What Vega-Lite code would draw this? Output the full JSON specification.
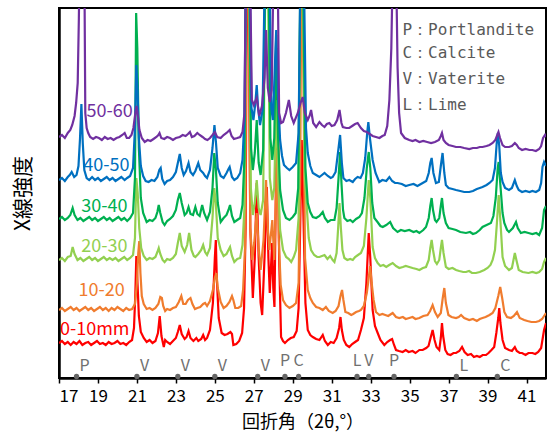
{
"$schema": "https://vega.github.io/schema/vega-lite/v6.json",
"width": 487, "height": 370,
"autosize": {"type": "none"},
"padding": {"left": 59, "top": 8, "right": 1, "bottom": 56},
"background": "white",
"config": {"view": {"stroke": "#000000", "strokeWidth": 2}},
"datasets": {
"xrd": [
{"s":"0-10mm","x":17.0,"y":35},{"s":"0-10mm","x":17.15,"y":37},{"s":"0-10mm","x":17.3,"y":34},{"s":"0-10mm","x":17.45,"y":36},{"s":"0-10mm","x":17.6,"y":33},{"s":"0-10mm","x":17.75,"y":36},{"s":"0-10mm","x":17.9,"y":34},{"s":"0-10mm","x":18.05,"y":37},{"s":"0-10mm","x":18.2,"y":33},{"s":"0-10mm","x":18.35,"y":35},{"s":"0-10mm","x":18.5,"y":36},{"s":"0-10mm","x":18.65,"y":33},{"s":"0-10mm","x":18.8,"y":35},{"s":"0-10mm","x":18.95,"y":37},{"s":"0-10mm","x":19.1,"y":34},{"s":"0-10mm","x":19.25,"y":35},{"s":"0-10mm","x":19.4,"y":33},{"s":"0-10mm","x":19.55,"y":36},{"s":"0-10mm","x":19.7,"y":34},{"s":"0-10mm","x":19.85,"y":35},{"s":"0-10mm","x":20.0,"y":37},{"s":"0-10mm","x":20.15,"y":34},{"s":"0-10mm","x":20.3,"y":35},{"s":"0-10mm","x":20.45,"y":33},{"s":"0-10mm","x":20.6,"y":36},{"s":"0-10mm","x":20.75,"y":38},{"s":"0-10mm","x":20.85,"y":50},{"s":"0-10mm","x":20.92,"y":85},{"s":"0-10mm","x":20.97,"y":122},{"s":"0-10mm","x":21.03,"y":95},{"s":"0-10mm","x":21.1,"y":62},{"s":"0-10mm","x":21.2,"y":46},{"s":"0-10mm","x":21.35,"y":40},{"s":"0-10mm","x":21.5,"y":36},{"s":"0-10mm","x":21.65,"y":38},{"s":"0-10mm","x":21.8,"y":35},{"s":"0-10mm","x":21.95,"y":37},{"s":"0-10mm","x":22.08,"y":45},{"s":"0-10mm","x":22.17,"y":62},{"s":"0-10mm","x":22.26,"y":42},{"s":"0-10mm","x":22.38,"y":31},{"s":"0-10mm","x":22.45,"y":38},{"s":"0-10mm","x":22.55,"y":36},{"s":"0-10mm","x":22.7,"y":34},{"s":"0-10mm","x":22.85,"y":37},{"s":"0-10mm","x":23.0,"y":40},{"s":"0-10mm","x":23.1,"y":46},{"s":"0-10mm","x":23.2,"y":53},{"s":"0-10mm","x":23.3,"y":44},{"s":"0-10mm","x":23.45,"y":39},{"s":"0-10mm","x":23.55,"y":41},{"s":"0-10mm","x":23.65,"y":47},{"s":"0-10mm","x":23.75,"y":40},{"s":"0-10mm","x":23.9,"y":37},{"s":"0-10mm","x":24.05,"y":40},{"s":"0-10mm","x":24.15,"y":37},{"s":"0-10mm","x":24.3,"y":39},{"s":"0-10mm","x":24.4,"y":43},{"s":"0-10mm","x":24.5,"y":38},{"s":"0-10mm","x":24.6,"y":40},{"s":"0-10mm","x":24.75,"y":48},{"s":"0-10mm","x":24.9,"y":75},{"s":"0-10mm","x":25.0,"y":120},{"s":"0-10mm","x":25.05,"y":138},{"s":"0-10mm","x":25.1,"y":100},{"s":"0-10mm","x":25.2,"y":60},{"s":"0-10mm","x":25.35,"y":45},{"s":"0-10mm","x":25.5,"y":43},{"s":"0-10mm","x":25.65,"y":44},{"s":"0-10mm","x":25.8,"y":46},{"s":"0-10mm","x":25.88,"y":44},{"s":"0-10mm","x":25.95,"y":33},{"s":"0-10mm","x":26.1,"y":34},{"s":"0-10mm","x":26.25,"y":37},{"s":"0-10mm","x":26.4,"y":45},{"s":"0-10mm","x":26.5,"y":70},{"s":"0-10mm","x":26.58,"y":150},{"s":"0-10mm","x":26.65,"y":420},{"s":"0-10mm","x":26.72,"y":420},{"s":"0-10mm","x":26.82,"y":150},{"s":"0-10mm","x":26.95,"y":80},{"s":"0-10mm","x":27.05,"y":120},{"s":"0-10mm","x":27.15,"y":195},{"s":"0-10mm","x":27.25,"y":120},{"s":"0-10mm","x":27.35,"y":75},{"s":"0-10mm","x":27.43,"y":63},{"s":"0-10mm","x":27.55,"y":120},{"s":"0-10mm","x":27.67,"y":191},{"s":"0-10mm","x":27.75,"y":120},{"s":"0-10mm","x":27.82,"y":85},{"s":"0-10mm","x":27.94,"y":135},{"s":"0-10mm","x":28.0,"y":90},{"s":"0-10mm","x":28.06,"y":71},{"s":"0-10mm","x":28.14,"y":200},{"s":"0-10mm","x":28.22,"y":330},{"s":"0-10mm","x":28.3,"y":120},{"s":"0-10mm","x":28.4,"y":41},{"s":"0-10mm","x":28.5,"y":37},{"s":"0-10mm","x":28.6,"y":35},{"s":"0-10mm","x":28.75,"y":38},{"s":"0-10mm","x":28.9,"y":40},{"s":"0-10mm","x":29.05,"y":41},{"s":"0-10mm","x":29.2,"y":47},{"s":"0-10mm","x":29.3,"y":70},{"s":"0-10mm","x":29.38,"y":150},{"s":"0-10mm","x":29.46,"y":238},{"s":"0-10mm","x":29.55,"y":160},{"s":"0-10mm","x":29.65,"y":75},{"s":"0-10mm","x":29.77,"y":48},{"s":"0-10mm","x":29.9,"y":43},{"s":"0-10mm","x":30.03,"y":41},{"s":"0-10mm","x":30.2,"y":39},{"s":"0-10mm","x":30.37,"y":38},{"s":"0-10mm","x":30.54,"y":43},{"s":"0-10mm","x":30.65,"y":37},{"s":"0-10mm","x":30.8,"y":33},{"s":"0-10mm","x":30.95,"y":36},{"s":"0-10mm","x":31.1,"y":35},{"s":"0-10mm","x":31.25,"y":40},{"s":"0-10mm","x":31.38,"y":50},{"s":"0-10mm","x":31.45,"y":61},{"s":"0-10mm","x":31.52,"y":48},{"s":"0-10mm","x":31.62,"y":38},{"s":"0-10mm","x":31.75,"y":33},{"s":"0-10mm","x":31.9,"y":31},{"s":"0-10mm","x":32.05,"y":34},{"s":"0-10mm","x":32.2,"y":36},{"s":"0-10mm","x":32.35,"y":38},{"s":"0-10mm","x":32.5,"y":48},{"s":"0-10mm","x":32.65,"y":60},{"s":"0-10mm","x":32.78,"y":95},{"s":"0-10mm","x":32.9,"y":145},{"s":"0-10mm","x":32.98,"y":120},{"s":"0-10mm","x":33.1,"y":68},{"s":"0-10mm","x":33.22,"y":52},{"s":"0-10mm","x":33.36,"y":45},{"s":"0-10mm","x":33.5,"y":38},{"s":"0-10mm","x":33.7,"y":33},{"s":"0-10mm","x":33.85,"y":36},{"s":"0-10mm","x":34.0,"y":38},{"s":"0-10mm","x":34.1,"y":39},{"s":"0-10mm","x":34.2,"y":33},{"s":"0-10mm","x":34.3,"y":28},{"s":"0-10mm","x":34.45,"y":27},{"s":"0-10mm","x":34.64,"y":26},{"s":"0-10mm","x":34.8,"y":28},{"s":"0-10mm","x":34.95,"y":26},{"s":"0-10mm","x":35.15,"y":27},{"s":"0-10mm","x":35.3,"y":25},{"s":"0-10mm","x":35.5,"y":28},{"s":"0-10mm","x":35.67,"y":28},{"s":"0-10mm","x":35.85,"y":30},{"s":"0-10mm","x":35.97,"y":32},{"s":"0-10mm","x":36.1,"y":42},{"s":"0-10mm","x":36.18,"y":48},{"s":"0-10mm","x":36.28,"y":38},{"s":"0-10mm","x":36.38,"y":31},{"s":"0-10mm","x":36.52,"y":28},{"s":"0-10mm","x":36.6,"y":40},{"s":"0-10mm","x":36.66,"y":55},{"s":"0-10mm","x":36.72,"y":42},{"s":"0-10mm","x":36.83,"y":28},{"s":"0-10mm","x":36.95,"y":24},{"s":"0-10mm","x":37.1,"y":23},{"s":"0-10mm","x":37.25,"y":25},{"s":"0-10mm","x":37.38,"y":25},{"s":"0-10mm","x":37.55,"y":27},{"s":"0-10mm","x":37.69,"y":31},{"s":"0-10mm","x":37.82,"y":26},{"s":"0-10mm","x":37.98,"y":23},{"s":"0-10mm","x":38.15,"y":24},{"s":"0-10mm","x":38.3,"y":21},{"s":"0-10mm","x":38.45,"y":22},{"s":"0-10mm","x":38.6,"y":21},{"s":"0-10mm","x":38.75,"y":23},{"s":"0-10mm","x":38.92,"y":23},{"s":"0-10mm","x":39.05,"y":25},{"s":"0-10mm","x":39.2,"y":28},{"s":"0-10mm","x":39.34,"y":31},{"s":"0-10mm","x":39.45,"y":45},{"s":"0-10mm","x":39.55,"y":60},{"s":"0-10mm","x":39.6,"y":70},{"s":"0-10mm","x":39.66,"y":55},{"s":"0-10mm","x":39.77,"y":38},{"s":"0-10mm","x":39.9,"y":30},{"s":"0-10mm","x":40.1,"y":28},{"s":"0-10mm","x":40.25,"y":27},{"s":"0-10mm","x":40.4,"y":31},{"s":"0-10mm","x":40.5,"y":27},{"s":"0-10mm","x":40.65,"y":25},{"s":"0-10mm","x":40.77,"y":25},{"s":"0-10mm","x":40.95,"y":23},{"s":"0-10mm","x":41.1,"y":25},{"s":"0-10mm","x":41.3,"y":25},{"s":"0-10mm","x":41.45,"y":24},{"s":"0-10mm","x":41.6,"y":26},{"s":"0-10mm","x":41.75,"y":30},{"s":"0-10mm","x":41.9,"y":48},{"s":"0-10mm","x":42.0,"y":55},

{"s":"10-20","x":17.0,"y":68},{"s":"10-20","x":17.15,"y":70},{"s":"10-20","x":17.3,"y":67},{"s":"10-20","x":17.45,"y":69},{"s":"10-20","x":17.6,"y":71},{"s":"10-20","x":17.75,"y":68},{"s":"10-20","x":17.9,"y":70},{"s":"10-20","x":18.05,"y":67},{"s":"10-20","x":18.2,"y":69},{"s":"10-20","x":18.35,"y":71},{"s":"10-20","x":18.5,"y":68},{"s":"10-20","x":18.65,"y":70},{"s":"10-20","x":18.8,"y":67},{"s":"10-20","x":18.95,"y":69},{"s":"10-20","x":19.1,"y":71},{"s":"10-20","x":19.25,"y":68},{"s":"10-20","x":19.4,"y":70},{"s":"10-20","x":19.55,"y":67},{"s":"10-20","x":19.7,"y":70},{"s":"10-20","x":19.85,"y":68},{"s":"10-20","x":20.0,"y":71},{"s":"10-20","x":20.15,"y":69},{"s":"10-20","x":20.3,"y":67},{"s":"10-20","x":20.45,"y":70},{"s":"10-20","x":20.6,"y":68},{"s":"10-20","x":20.75,"y":69},{"s":"10-20","x":20.9,"y":74},{"s":"10-20","x":21.0,"y":95},{"s":"10-20","x":21.07,"y":125},{"s":"10-20","x":21.12,"y":137},{"s":"10-20","x":21.18,"y":105},{"s":"10-20","x":21.25,"y":82},{"s":"10-20","x":21.35,"y":74},{"s":"10-20","x":21.5,"y":69},{"s":"10-20","x":21.65,"y":70},{"s":"10-20","x":21.8,"y":68},{"s":"10-20","x":21.95,"y":70},{"s":"10-20","x":22.1,"y":74},{"s":"10-20","x":22.2,"y":81},{"s":"10-20","x":22.28,"y":80},{"s":"10-20","x":22.35,"y":72},{"s":"10-20","x":22.45,"y":67},{"s":"10-20","x":22.55,"y":69},{"s":"10-20","x":22.7,"y":68},{"s":"10-20","x":22.85,"y":70},{"s":"10-20","x":23.0,"y":71},{"s":"10-20","x":23.15,"y":76},{"s":"10-20","x":23.28,"y":82},{"s":"10-20","x":23.38,"y":74},{"s":"10-20","x":23.5,"y":74},{"s":"10-20","x":23.62,"y":78},{"s":"10-20","x":23.75,"y":80},{"s":"10-20","x":23.85,"y":74},{"s":"10-20","x":23.98,"y":69},{"s":"10-20","x":24.1,"y":70},{"s":"10-20","x":24.25,"y":71},{"s":"10-20","x":24.4,"y":74},{"s":"10-20","x":24.5,"y":75},{"s":"10-20","x":24.6,"y":72},{"s":"10-20","x":24.75,"y":77},{"s":"10-20","x":24.9,"y":88},{"s":"10-20","x":25.0,"y":100},{"s":"10-20","x":25.08,"y":105},{"s":"10-20","x":25.15,"y":90},{"s":"10-20","x":25.3,"y":76},{"s":"10-20","x":25.45,"y":70},{"s":"10-20","x":25.6,"y":72},{"s":"10-20","x":25.75,"y":76},{"s":"10-20","x":25.88,"y":82},{"s":"10-20","x":25.95,"y":78},{"s":"10-20","x":26.05,"y":70},{"s":"10-20","x":26.2,"y":70},{"s":"10-20","x":26.35,"y":72},{"s":"10-20","x":26.45,"y":88},{"s":"10-20","x":26.55,"y":130},{"s":"10-20","x":26.63,"y":420},{"s":"10-20","x":26.73,"y":420},{"s":"10-20","x":26.82,"y":150},{"s":"10-20","x":26.92,"y":118},{"s":"10-20","x":27.02,"y":135},{"s":"10-20","x":27.15,"y":165},{"s":"10-20","x":27.25,"y":130},{"s":"10-20","x":27.35,"y":108},{"s":"10-20","x":27.5,"y":138},{"s":"10-20","x":27.63,"y":198},{"s":"10-20","x":27.72,"y":150},{"s":"10-20","x":27.8,"y":128},{"s":"10-20","x":27.95,"y":158},{"s":"10-20","x":28.05,"y":118},{"s":"10-20","x":28.14,"y":180},{"s":"10-20","x":28.2,"y":228},{"s":"10-20","x":28.28,"y":140},{"s":"10-20","x":28.38,"y":93},{"s":"10-20","x":28.5,"y":78},{"s":"10-20","x":28.65,"y":73},{"s":"10-20","x":28.83,"y":70},{"s":"10-20","x":29.0,"y":72},{"s":"10-20","x":29.17,"y":75},{"s":"10-20","x":29.3,"y":95},{"s":"10-20","x":29.38,"y":200},{"s":"10-20","x":29.45,"y":420},{"s":"10-20","x":29.55,"y":300},{"s":"10-20","x":29.63,"y":120},{"s":"10-20","x":29.77,"y":88},{"s":"10-20","x":29.9,"y":80},{"s":"10-20","x":30.03,"y":75},{"s":"10-20","x":30.2,"y":71},{"s":"10-20","x":30.37,"y":70},{"s":"10-20","x":30.54,"y":68},{"s":"10-20","x":30.7,"y":71},{"s":"10-20","x":30.85,"y":67},{"s":"10-20","x":31.05,"y":65},{"s":"10-20","x":31.2,"y":67},{"s":"10-20","x":31.35,"y":72},{"s":"10-20","x":31.45,"y":82},{"s":"10-20","x":31.53,"y":88},{"s":"10-20","x":31.6,"y":78},{"s":"10-20","x":31.7,"y":66},{"s":"10-20","x":31.85,"y":65},{"s":"10-20","x":32.0,"y":63},{"s":"10-20","x":32.1,"y":64},{"s":"10-20","x":32.25,"y":66},{"s":"10-20","x":32.4,"y":67},{"s":"10-20","x":32.5,"y":68},{"s":"10-20","x":32.65,"y":72},{"s":"10-20","x":32.8,"y":85},{"s":"10-20","x":32.9,"y":100},{"s":"10-20","x":32.97,"y":112},{"s":"10-20","x":33.05,"y":95},{"s":"10-20","x":33.15,"y":78},{"s":"10-20","x":33.27,"y":66},{"s":"10-20","x":33.45,"y":63},{"s":"10-20","x":33.6,"y":64},{"s":"10-20","x":33.75,"y":63},{"s":"10-20","x":33.9,"y":62},{"s":"10-20","x":34.05,"y":64},{"s":"10-20","x":34.13,"y":65},{"s":"10-20","x":34.3,"y":61},{"s":"10-20","x":34.47,"y":60},{"s":"10-20","x":34.65,"y":61},{"s":"10-20","x":34.8,"y":59},{"s":"10-20","x":34.98,"y":60},{"s":"10-20","x":35.15,"y":61},{"s":"10-20","x":35.3,"y":59},{"s":"10-20","x":35.5,"y":60},{"s":"10-20","x":35.7,"y":62},{"s":"10-20","x":35.92,"y":63},{"s":"10-20","x":36.05,"y":67},{"s":"10-20","x":36.18,"y":73},{"s":"10-20","x":36.3,"y":66},{"s":"10-20","x":36.44,"y":61},{"s":"10-20","x":36.6,"y":65},{"s":"10-20","x":36.7,"y":80},{"s":"10-20","x":36.78,"y":90},{"s":"10-20","x":36.86,"y":75},{"s":"10-20","x":36.99,"y":63},{"s":"10-20","x":37.15,"y":61},{"s":"10-20","x":37.38,"y":60},{"s":"10-20","x":37.52,"y":61},{"s":"10-20","x":37.64,"y":63},{"s":"10-20","x":37.8,"y":60},{"s":"10-20","x":38.06,"y":58},{"s":"10-20","x":38.25,"y":59},{"s":"10-20","x":38.45,"y":57},{"s":"10-20","x":38.6,"y":59},{"s":"10-20","x":38.74,"y":60},{"s":"10-20","x":38.9,"y":61},{"s":"10-20","x":39.1,"y":63},{"s":"10-20","x":39.26,"y":65},{"s":"10-20","x":39.4,"y":70},{"s":"10-20","x":39.55,"y":82},{"s":"10-20","x":39.65,"y":91},{"s":"10-20","x":39.75,"y":80},{"s":"10-20","x":39.86,"y":66},{"s":"10-20","x":40.0,"y":61},{"s":"10-20","x":40.2,"y":60},{"s":"10-20","x":40.35,"y":62},{"s":"10-20","x":40.51,"y":66},{"s":"10-20","x":40.65,"y":60},{"s":"10-20","x":40.88,"y":58},{"s":"10-20","x":41.05,"y":57},{"s":"10-20","x":41.25,"y":56},{"s":"10-20","x":41.48,"y":56},{"s":"10-20","x":41.65,"y":57},{"s":"10-20","x":41.8,"y":59},{"s":"10-20","x":41.9,"y":62},{"s":"10-20","x":42.0,"y":65},

{"s":"20-30","x":17.0,"y":118},{"s":"20-30","x":17.15,"y":120},{"s":"20-30","x":17.3,"y":117},{"s":"20-30","x":17.45,"y":121},{"s":"20-30","x":17.6,"y":122},{"s":"20-30","x":17.7,"y":131},{"s":"20-30","x":17.8,"y":124},{"s":"20-30","x":17.95,"y":118},{"s":"20-30","x":18.1,"y":120},{"s":"20-30","x":18.25,"y":117},{"s":"20-30","x":18.4,"y":119},{"s":"20-30","x":18.55,"y":121},{"s":"20-30","x":18.7,"y":118},{"s":"20-30","x":18.85,"y":120},{"s":"20-30","x":19.0,"y":117},{"s":"20-30","x":19.15,"y":119},{"s":"20-30","x":19.3,"y":121},{"s":"20-30","x":19.45,"y":118},{"s":"20-30","x":19.6,"y":120},{"s":"20-30","x":19.75,"y":118},{"s":"20-30","x":19.9,"y":120},{"s":"20-30","x":20.05,"y":117},{"s":"20-30","x":20.2,"y":119},{"s":"20-30","x":20.35,"y":121},{"s":"20-30","x":20.5,"y":118},{"s":"20-30","x":20.65,"y":120},{"s":"20-30","x":20.8,"y":123},{"s":"20-30","x":20.9,"y":140},{"s":"20-30","x":20.97,"y":200},{"s":"20-30","x":21.04,"y":185},{"s":"20-30","x":21.12,"y":150},{"s":"20-30","x":21.22,"y":130},{"s":"20-30","x":21.35,"y":122},{"s":"20-30","x":21.5,"y":118},{"s":"20-30","x":21.65,"y":120},{"s":"20-30","x":21.8,"y":119},{"s":"20-30","x":21.95,"y":121},{"s":"20-30","x":22.05,"y":126},{"s":"20-30","x":22.12,"y":130},{"s":"20-30","x":22.2,"y":124},{"s":"20-30","x":22.32,"y":118},{"s":"20-30","x":22.42,"y":116},{"s":"20-30","x":22.55,"y":119},{"s":"20-30","x":22.7,"y":118},{"s":"20-30","x":22.85,"y":120},{"s":"20-30","x":23.0,"y":124},{"s":"20-30","x":23.1,"y":135},{"s":"20-30","x":23.2,"y":145},{"s":"20-30","x":23.3,"y":132},{"s":"20-30","x":23.45,"y":126},{"s":"20-30","x":23.58,"y":133},{"s":"20-30","x":23.68,"y":145},{"s":"20-30","x":23.8,"y":128},{"s":"20-30","x":23.92,"y":122},{"s":"20-30","x":24.0,"y":121},{"s":"20-30","x":24.15,"y":124},{"s":"20-30","x":24.3,"y":128},{"s":"20-30","x":24.4,"y":133},{"s":"20-30","x":24.5,"y":126},{"s":"20-30","x":24.6,"y":123},{"s":"20-30","x":24.75,"y":130},{"s":"20-30","x":24.88,"y":160},{"s":"20-30","x":24.97,"y":190},{"s":"20-30","x":25.05,"y":175},{"s":"20-30","x":25.15,"y":140},{"s":"20-30","x":25.3,"y":128},{"s":"20-30","x":25.45,"y":122},{"s":"20-30","x":25.6,"y":124},{"s":"20-30","x":25.7,"y":128},{"s":"20-30","x":25.78,"y":131},{"s":"20-30","x":25.88,"y":122},{"s":"20-30","x":26.0,"y":116},{"s":"20-30","x":26.15,"y":119},{"s":"20-30","x":26.3,"y":120},{"s":"20-30","x":26.42,"y":133},{"s":"20-30","x":26.52,"y":170},{"s":"20-30","x":26.6,"y":420},{"s":"20-30","x":26.75,"y":420},{"s":"20-30","x":26.85,"y":190},{"s":"20-30","x":26.95,"y":163},{"s":"20-30","x":27.05,"y":175},{"s":"20-30","x":27.15,"y":198},{"s":"20-30","x":27.25,"y":170},{"s":"20-30","x":27.35,"y":163},{"s":"20-30","x":27.48,"y":178},{"s":"20-30","x":27.6,"y":420},{"s":"20-30","x":27.72,"y":420},{"s":"20-30","x":27.82,"y":200},{"s":"20-30","x":27.95,"y":178},{"s":"20-30","x":28.05,"y":190},{"s":"20-30","x":28.15,"y":278},{"s":"20-30","x":28.25,"y":200},{"s":"20-30","x":28.35,"y":148},{"s":"20-30","x":28.5,"y":128},{"s":"20-30","x":28.66,"y":121},{"s":"20-30","x":28.8,"y":119},{"s":"20-30","x":28.92,"y":116},{"s":"20-30","x":29.05,"y":121},{"s":"20-30","x":29.17,"y":128},{"s":"20-30","x":29.3,"y":160},{"s":"20-30","x":29.4,"y":420},{"s":"20-30","x":29.5,"y":420},{"s":"20-30","x":29.62,"y":200},{"s":"20-30","x":29.72,"y":171},{"s":"20-30","x":29.82,"y":140},{"s":"20-30","x":29.94,"y":128},{"s":"20-30","x":30.1,"y":123},{"s":"20-30","x":30.25,"y":121},{"s":"20-30","x":30.37,"y":121},{"s":"20-30","x":30.5,"y":122},{"s":"20-30","x":30.63,"y":123},{"s":"20-30","x":30.78,"y":119},{"s":"20-30","x":30.92,"y":122},{"s":"20-30","x":31.05,"y":118},{"s":"20-30","x":31.14,"y":116},{"s":"20-30","x":31.25,"y":125},{"s":"20-30","x":31.33,"y":150},{"s":"20-30","x":31.4,"y":175},{"s":"20-30","x":31.47,"y":150},{"s":"20-30","x":31.55,"y":128},{"s":"20-30","x":31.65,"y":120},{"s":"20-30","x":31.8,"y":118},{"s":"20-30","x":31.95,"y":119},{"s":"20-30","x":32.08,"y":118},{"s":"20-30","x":32.2,"y":121},{"s":"20-30","x":32.35,"y":123},{"s":"20-30","x":32.5,"y":125},{"s":"20-30","x":32.65,"y":132},{"s":"20-30","x":32.78,"y":160},{"s":"20-30","x":32.9,"y":198},{"s":"20-30","x":32.98,"y":180},{"s":"20-30","x":33.1,"y":131},{"s":"20-30","x":33.22,"y":120},{"s":"20-30","x":33.36,"y":115},{"s":"20-30","x":33.5,"y":112},{"s":"20-30","x":33.65,"y":113},{"s":"20-30","x":33.8,"y":111},{"s":"20-30","x":33.95,"y":113},{"s":"20-30","x":34.13,"y":115},{"s":"20-30","x":34.3,"y":112},{"s":"20-30","x":34.47,"y":110},{"s":"20-30","x":34.65,"y":111},{"s":"20-30","x":34.8,"y":112},{"s":"20-30","x":34.98,"y":111},{"s":"20-30","x":35.15,"y":110},{"s":"20-30","x":35.35,"y":109},{"s":"20-30","x":35.5,"y":108},{"s":"20-30","x":35.68,"y":110},{"s":"20-30","x":35.84,"y":111},{"s":"20-30","x":35.98,"y":118},{"s":"20-30","x":36.06,"y":130},{"s":"20-30","x":36.13,"y":138},{"s":"20-30","x":36.2,"y":128},{"s":"20-30","x":36.3,"y":117},{"s":"20-30","x":36.4,"y":114},{"s":"20-30","x":36.52,"y":118},{"s":"20-30","x":36.6,"y":130},{"s":"20-30","x":36.66,"y":138},{"s":"20-30","x":36.74,"y":125},{"s":"20-30","x":36.86,"y":111},{"s":"20-30","x":37.0,"y":109},{"s":"20-30","x":37.2,"y":110},{"s":"20-30","x":37.38,"y":108},{"s":"20-30","x":37.55,"y":107},{"s":"20-30","x":37.75,"y":106},{"s":"20-30","x":37.89,"y":106},{"s":"20-30","x":38.05,"y":107},{"s":"20-30","x":38.2,"y":105},{"s":"20-30","x":38.4,"y":105},{"s":"20-30","x":38.6,"y":106},{"s":"20-30","x":38.83,"y":108},{"s":"20-30","x":39.0,"y":110},{"s":"20-30","x":39.15,"y":113},{"s":"20-30","x":39.26,"y":118},{"s":"20-30","x":39.38,"y":128},{"s":"20-30","x":39.48,"y":155},{"s":"20-30","x":39.57,"y":183},{"s":"20-30","x":39.65,"y":160},{"s":"20-30","x":39.77,"y":121},{"s":"20-30","x":39.9,"y":112},{"s":"20-30","x":40.1,"y":108},{"s":"20-30","x":40.25,"y":110},{"s":"20-30","x":40.4,"y":125},{"s":"20-30","x":40.48,"y":118},{"s":"20-30","x":40.6,"y":108},{"s":"20-30","x":40.8,"y":106},{"s":"20-30","x":41.1,"y":105},{"s":"20-30","x":41.3,"y":106},{"s":"20-30","x":41.5,"y":105},{"s":"20-30","x":41.65,"y":106},{"s":"20-30","x":41.8,"y":109},{"s":"20-30","x":41.9,"y":116},{"s":"20-30","x":42.0,"y":120},

{"s":"30-40","x":17.0,"y":159},{"s":"30-40","x":17.15,"y":161},{"s":"30-40","x":17.3,"y":158},{"s":"30-40","x":17.45,"y":160},{"s":"30-40","x":17.58,"y":163},{"s":"30-40","x":17.7,"y":170},{"s":"30-40","x":17.8,"y":163},{"s":"30-40","x":17.95,"y":158},{"s":"30-40","x":18.1,"y":160},{"s":"30-40","x":18.25,"y":157},{"s":"30-40","x":18.4,"y":159},{"s":"30-40","x":18.55,"y":161},{"s":"30-40","x":18.7,"y":158},{"s":"30-40","x":18.85,"y":160},{"s":"30-40","x":19.0,"y":157},{"s":"30-40","x":19.15,"y":159},{"s":"30-40","x":19.3,"y":161},{"s":"30-40","x":19.45,"y":158},{"s":"30-40","x":19.6,"y":160},{"s":"30-40","x":19.75,"y":157},{"s":"30-40","x":19.9,"y":159},{"s":"30-40","x":20.05,"y":161},{"s":"30-40","x":20.2,"y":158},{"s":"30-40","x":20.35,"y":160},{"s":"30-40","x":20.5,"y":157},{"s":"30-40","x":20.65,"y":160},{"s":"30-40","x":20.8,"y":165},{"s":"30-40","x":20.9,"y":200},{"s":"30-40","x":20.96,"y":365},{"s":"30-40","x":21.02,"y":330},{"s":"30-40","x":21.1,"y":230},{"s":"30-40","x":21.2,"y":180},{"s":"30-40","x":21.32,"y":165},{"s":"30-40","x":21.5,"y":156},{"s":"30-40","x":21.65,"y":158},{"s":"30-40","x":21.8,"y":157},{"s":"30-40","x":21.95,"y":160},{"s":"30-40","x":22.05,"y":166},{"s":"30-40","x":22.12,"y":173},{"s":"30-40","x":22.2,"y":165},{"s":"30-40","x":22.32,"y":156},{"s":"30-40","x":22.42,"y":153},{"s":"30-40","x":22.55,"y":157},{"s":"30-40","x":22.7,"y":159},{"s":"30-40","x":22.85,"y":162},{"s":"30-40","x":23.0,"y":168},{"s":"30-40","x":23.1,"y":178},{"s":"30-40","x":23.2,"y":185},{"s":"30-40","x":23.3,"y":175},{"s":"30-40","x":23.45,"y":163},{"s":"30-40","x":23.55,"y":165},{"s":"30-40","x":23.65,"y":171},{"s":"30-40","x":23.75,"y":164},{"s":"30-40","x":23.88,"y":163},{"s":"30-40","x":24.0,"y":171},{"s":"30-40","x":24.1,"y":164},{"s":"30-40","x":24.22,"y":162},{"s":"30-40","x":24.35,"y":173},{"s":"30-40","x":24.45,"y":165},{"s":"30-40","x":24.6,"y":158},{"s":"30-40","x":24.75,"y":166},{"s":"30-40","x":24.88,"y":190},{"s":"30-40","x":24.97,"y":225},{"s":"30-40","x":25.05,"y":210},{"s":"30-40","x":25.15,"y":175},{"s":"30-40","x":25.3,"y":156},{"s":"30-40","x":25.45,"y":160},{"s":"30-40","x":25.6,"y":163},{"s":"30-40","x":25.7,"y":168},{"s":"30-40","x":25.78,"y":173},{"s":"30-40","x":25.88,"y":162},{"s":"30-40","x":26.0,"y":156},{"s":"30-40","x":26.15,"y":158},{"s":"30-40","x":26.3,"y":160},{"s":"30-40","x":26.42,"y":173},{"s":"30-40","x":26.52,"y":220},{"s":"30-40","x":26.6,"y":420},{"s":"30-40","x":26.76,"y":420},{"s":"30-40","x":26.86,"y":230},{"s":"30-40","x":26.95,"y":208},{"s":"30-40","x":27.05,"y":225},{"s":"30-40","x":27.15,"y":258},{"s":"30-40","x":27.25,"y":215},{"s":"30-40","x":27.35,"y":203},{"s":"30-40","x":27.48,"y":228},{"s":"30-40","x":27.6,"y":420},{"s":"30-40","x":27.75,"y":420},{"s":"30-40","x":27.85,"y":240},{"s":"30-40","x":27.95,"y":218},{"s":"30-40","x":28.05,"y":240},{"s":"30-40","x":28.15,"y":343},{"s":"30-40","x":28.25,"y":240},{"s":"30-40","x":28.35,"y":188},{"s":"30-40","x":28.5,"y":168},{"s":"30-40","x":28.65,"y":160},{"s":"30-40","x":28.83,"y":158},{"s":"30-40","x":29.0,"y":161},{"s":"30-40","x":29.15,"y":165},{"s":"30-40","x":29.28,"y":190},{"s":"30-40","x":29.4,"y":420},{"s":"30-40","x":29.52,"y":420},{"s":"30-40","x":29.65,"y":210},{"s":"30-40","x":29.77,"y":175},{"s":"30-40","x":29.9,"y":166},{"s":"30-40","x":30.03,"y":161},{"s":"30-40","x":30.2,"y":160},{"s":"30-40","x":30.37,"y":162},{"s":"30-40","x":30.54,"y":166},{"s":"30-40","x":30.65,"y":160},{"s":"30-40","x":30.8,"y":156},{"s":"30-40","x":30.95,"y":158},{"s":"30-40","x":31.14,"y":158},{"s":"30-40","x":31.25,"y":170},{"s":"30-40","x":31.35,"y":200},{"s":"30-40","x":31.43,"y":226},{"s":"30-40","x":31.5,"y":195},{"s":"30-40","x":31.58,"y":168},{"s":"30-40","x":31.65,"y":160},{"s":"30-40","x":31.8,"y":157},{"s":"30-40","x":31.95,"y":158},{"s":"30-40","x":32.08,"y":156},{"s":"30-40","x":32.25,"y":159},{"s":"30-40","x":32.42,"y":161},{"s":"30-40","x":32.55,"y":165},{"s":"30-40","x":32.68,"y":180},{"s":"30-40","x":32.8,"y":210},{"s":"30-40","x":32.9,"y":226},{"s":"30-40","x":32.98,"y":210},{"s":"30-40","x":33.08,"y":175},{"s":"30-40","x":33.19,"y":160},{"s":"30-40","x":33.35,"y":156},{"s":"30-40","x":33.5,"y":152},{"s":"30-40","x":33.62,"y":151},{"s":"30-40","x":33.8,"y":153},{"s":"30-40","x":34.0,"y":156},{"s":"30-40","x":34.15,"y":150},{"s":"30-40","x":34.38,"y":146},{"s":"30-40","x":34.55,"y":148},{"s":"30-40","x":34.75,"y":147},{"s":"30-40","x":34.98,"y":148},{"s":"30-40","x":35.2,"y":146},{"s":"30-40","x":35.35,"y":147},{"s":"30-40","x":35.5,"y":145},{"s":"30-40","x":35.7,"y":148},{"s":"30-40","x":35.84,"y":151},{"s":"30-40","x":35.98,"y":160},{"s":"30-40","x":36.06,"y":172},{"s":"30-40","x":36.13,"y":180},{"s":"30-40","x":36.2,"y":168},{"s":"30-40","x":36.3,"y":158},{"s":"30-40","x":36.38,"y":156},{"s":"30-40","x":36.52,"y":160},{"s":"30-40","x":36.6,"y":172},{"s":"30-40","x":36.66,"y":180},{"s":"30-40","x":36.74,"y":165},{"s":"30-40","x":36.86,"y":155},{"s":"30-40","x":37.0,"y":150},{"s":"30-40","x":37.2,"y":149},{"s":"30-40","x":37.38,"y":148},{"s":"30-40","x":37.6,"y":146},{"s":"30-40","x":37.89,"y":145},{"s":"30-40","x":38.1,"y":146},{"s":"30-40","x":38.25,"y":144},{"s":"30-40","x":38.4,"y":145},{"s":"30-40","x":38.6,"y":148},{"s":"30-40","x":38.74,"y":151},{"s":"30-40","x":38.95,"y":153},{"s":"30-40","x":39.17,"y":155},{"s":"30-40","x":39.3,"y":162},{"s":"30-40","x":39.42,"y":180},{"s":"30-40","x":39.52,"y":210},{"s":"30-40","x":39.57,"y":216},{"s":"30-40","x":39.65,"y":195},{"s":"30-40","x":39.77,"y":165},{"s":"30-40","x":39.86,"y":155},{"s":"30-40","x":40.0,"y":148},{"s":"30-40","x":40.1,"y":146},{"s":"30-40","x":40.3,"y":150},{"s":"30-40","x":40.46,"y":156},{"s":"30-40","x":40.55,"y":150},{"s":"30-40","x":40.71,"y":145},{"s":"30-40","x":40.9,"y":146},{"s":"30-40","x":41.1,"y":145},{"s":"30-40","x":41.3,"y":144},{"s":"30-40","x":41.5,"y":145},{"s":"30-40","x":41.65,"y":143},{"s":"30-40","x":41.8,"y":150},{"s":"30-40","x":41.9,"y":168},{"s":"30-40","x":42.0,"y":172},

{"s":"40-50","x":17.0,"y":198},{"s":"40-50","x":17.15,"y":200},{"s":"40-50","x":17.3,"y":197},{"s":"40-50","x":17.45,"y":201},{"s":"40-50","x":17.55,"y":203},{"s":"40-50","x":17.65,"y":206},{"s":"40-50","x":17.78,"y":201},{"s":"40-50","x":17.9,"y":203},{"s":"40-50","x":18.0,"y":212},{"s":"40-50","x":18.08,"y":240},{"s":"40-50","x":18.15,"y":274},{"s":"40-50","x":18.22,"y":235},{"s":"40-50","x":18.3,"y":208},{"s":"40-50","x":18.42,"y":200},{"s":"40-50","x":18.55,"y":198},{"s":"40-50","x":18.7,"y":201},{"s":"40-50","x":18.85,"y":198},{"s":"40-50","x":19.0,"y":200},{"s":"40-50","x":19.15,"y":197},{"s":"40-50","x":19.3,"y":199},{"s":"40-50","x":19.45,"y":201},{"s":"40-50","x":19.6,"y":198},{"s":"40-50","x":19.75,"y":200},{"s":"40-50","x":19.9,"y":197},{"s":"40-50","x":20.05,"y":199},{"s":"40-50","x":20.2,"y":201},{"s":"40-50","x":20.37,"y":198},{"s":"40-50","x":20.5,"y":200},{"s":"40-50","x":20.65,"y":202},{"s":"40-50","x":20.8,"y":210},{"s":"40-50","x":20.9,"y":250},{"s":"40-50","x":20.97,"y":313},{"s":"40-50","x":21.03,"y":290},{"s":"40-50","x":21.1,"y":240},{"s":"40-50","x":21.2,"y":212},{"s":"40-50","x":21.32,"y":202},{"s":"40-50","x":21.45,"y":197},{"s":"40-50","x":21.6,"y":196},{"s":"40-50","x":21.75,"y":198},{"s":"40-50","x":21.9,"y":197},{"s":"40-50","x":22.05,"y":201},{"s":"40-50","x":22.15,"y":208},{"s":"40-50","x":22.22,"y":210},{"s":"40-50","x":22.3,"y":199},{"s":"40-50","x":22.42,"y":194},{"s":"40-50","x":22.55,"y":197},{"s":"40-50","x":22.7,"y":198},{"s":"40-50","x":22.85,"y":201},{"s":"40-50","x":23.0,"y":206},{"s":"40-50","x":23.1,"y":215},{"s":"40-50","x":23.2,"y":224},{"s":"40-50","x":23.3,"y":210},{"s":"40-50","x":23.4,"y":203},{"s":"40-50","x":23.52,"y":207},{"s":"40-50","x":23.65,"y":215},{"s":"40-50","x":23.75,"y":206},{"s":"40-50","x":23.88,"y":203},{"s":"40-50","x":24.0,"y":207},{"s":"40-50","x":24.15,"y":215},{"s":"40-50","x":24.25,"y":208},{"s":"40-50","x":24.4,"y":205},{"s":"40-50","x":24.5,"y":202},{"s":"40-50","x":24.6,"y":200},{"s":"40-50","x":24.75,"y":208},{"s":"40-50","x":24.88,"y":230},{"s":"40-50","x":24.98,"y":253},{"s":"40-50","x":25.06,"y":235},{"s":"40-50","x":25.15,"y":210},{"s":"40-50","x":25.3,"y":202},{"s":"40-50","x":25.45,"y":200},{"s":"40-50","x":25.6,"y":205},{"s":"40-50","x":25.7,"y":209},{"s":"40-50","x":25.76,"y":211},{"s":"40-50","x":25.88,"y":201},{"s":"40-50","x":26.0,"y":198},{"s":"40-50","x":26.15,"y":200},{"s":"40-50","x":26.3,"y":205},{"s":"40-50","x":26.42,"y":218},{"s":"40-50","x":26.52,"y":260},{"s":"40-50","x":26.6,"y":420},{"s":"40-50","x":26.78,"y":420},{"s":"40-50","x":26.88,"y":270},{"s":"40-50","x":26.98,"y":258},{"s":"40-50","x":27.08,"y":275},{"s":"40-50","x":27.15,"y":293},{"s":"40-50","x":27.22,"y":270},{"s":"40-50","x":27.32,"y":253},{"s":"40-50","x":27.45,"y":268},{"s":"40-50","x":27.58,"y":420},{"s":"40-50","x":27.8,"y":420},{"s":"40-50","x":27.9,"y":270},{"s":"40-50","x":27.98,"y":258},{"s":"40-50","x":28.06,"y":300},{"s":"40-50","x":28.15,"y":348},{"s":"40-50","x":28.25,"y":280},{"s":"40-50","x":28.35,"y":238},{"s":"40-50","x":28.45,"y":222},{"s":"40-50","x":28.55,"y":213},{"s":"40-50","x":28.7,"y":210},{"s":"40-50","x":28.83,"y":208},{"s":"40-50","x":29.0,"y":211},{"s":"40-50","x":29.17,"y":215},{"s":"40-50","x":29.3,"y":245},{"s":"40-50","x":29.4,"y":420},{"s":"40-50","x":29.56,"y":420},{"s":"40-50","x":29.68,"y":250},{"s":"40-50","x":29.77,"y":225},{"s":"40-50","x":29.9,"y":212},{"s":"40-50","x":30.03,"y":205},{"s":"40-50","x":30.2,"y":203},{"s":"40-50","x":30.37,"y":201},{"s":"40-50","x":30.5,"y":203},{"s":"40-50","x":30.63,"y":205},{"s":"40-50","x":30.8,"y":202},{"s":"40-50","x":30.95,"y":200},{"s":"40-50","x":31.05,"y":201},{"s":"40-50","x":31.2,"y":206},{"s":"40-50","x":31.32,"y":225},{"s":"40-50","x":31.43,"y":243},{"s":"40-50","x":31.52,"y":215},{"s":"40-50","x":31.6,"y":200},{"s":"40-50","x":31.75,"y":197},{"s":"40-50","x":31.9,"y":198},{"s":"40-50","x":32.08,"y":196},{"s":"40-50","x":32.2,"y":199},{"s":"40-50","x":32.33,"y":201},{"s":"40-50","x":32.48,"y":200},{"s":"40-50","x":32.6,"y":205},{"s":"40-50","x":32.72,"y":220},{"s":"40-50","x":32.82,"y":245},{"s":"40-50","x":32.88,"y":256},{"s":"40-50","x":32.96,"y":240},{"s":"40-50","x":33.1,"y":218},{"s":"40-50","x":33.25,"y":205},{"s":"40-50","x":33.44,"y":196},{"s":"40-50","x":33.6,"y":198},{"s":"40-50","x":33.8,"y":197},{"s":"40-50","x":33.96,"y":201},{"s":"40-50","x":34.1,"y":197},{"s":"40-50","x":34.25,"y":195},{"s":"40-50","x":34.38,"y":195},{"s":"40-50","x":34.6,"y":194},{"s":"40-50","x":34.8,"y":192},{"s":"40-50","x":34.98,"y":193},{"s":"40-50","x":35.2,"y":194},{"s":"40-50","x":35.4,"y":192},{"s":"40-50","x":35.67,"y":195},{"s":"40-50","x":35.85,"y":197},{"s":"40-50","x":35.98,"y":205},{"s":"40-50","x":36.06,"y":215},{"s":"40-50","x":36.13,"y":220},{"s":"40-50","x":36.22,"y":205},{"s":"40-50","x":36.35,"y":195},{"s":"40-50","x":36.5,"y":196},{"s":"40-50","x":36.6,"y":212},{"s":"40-50","x":36.69,"y":225},{"s":"40-50","x":36.78,"y":205},{"s":"40-50","x":36.86,"y":193},{"s":"40-50","x":37.0,"y":190},{"s":"40-50","x":37.2,"y":189},{"s":"40-50","x":37.38,"y":188},{"s":"40-50","x":37.6,"y":187},{"s":"40-50","x":37.8,"y":186},{"s":"40-50","x":38.06,"y":186},{"s":"40-50","x":38.25,"y":187},{"s":"40-50","x":38.45,"y":189},{"s":"40-50","x":38.6,"y":190},{"s":"40-50","x":38.74,"y":191},{"s":"40-50","x":38.95,"y":193},{"s":"40-50","x":39.1,"y":195},{"s":"40-50","x":39.26,"y":198},{"s":"40-50","x":39.38,"y":210},{"s":"40-50","x":39.47,"y":235},{"s":"40-50","x":39.53,"y":245},{"s":"40-50","x":39.6,"y":232},{"s":"40-50","x":39.68,"y":205},{"s":"40-50","x":39.77,"y":196},{"s":"40-50","x":39.9,"y":190},{"s":"40-50","x":40.1,"y":188},{"s":"40-50","x":40.25,"y":190},{"s":"40-50","x":40.4,"y":198},{"s":"40-50","x":40.5,"y":192},{"s":"40-50","x":40.6,"y":188},{"s":"40-50","x":40.77,"y":186},{"s":"40-50","x":40.95,"y":187},{"s":"40-50","x":41.15,"y":186},{"s":"40-50","x":41.3,"y":187},{"s":"40-50","x":41.48,"y":186},{"s":"40-50","x":41.65,"y":188},{"s":"40-50","x":41.75,"y":195},{"s":"40-50","x":41.82,"y":211},{"s":"40-50","x":41.9,"y":216},{"s":"40-50","x":42.0,"y":212},

{"s":"50-60","x":17.0,"y":241},{"s":"50-60","x":17.15,"y":243},{"s":"50-60","x":17.3,"y":240},{"s":"50-60","x":17.45,"y":245},{"s":"50-60","x":17.58,"y":248},{"s":"50-60","x":17.68,"y":253},{"s":"50-60","x":17.8,"y":262},{"s":"50-60","x":17.88,"y":275},{"s":"50-60","x":17.96,"y":295},{"s":"50-60","x":18.02,"y":360},{"s":"50-60","x":18.06,"y":420},{"s":"50-60","x":18.3,"y":420},{"s":"50-60","x":18.35,"y":265},{"s":"50-60","x":18.42,"y":250},{"s":"50-60","x":18.5,"y":245},{"s":"50-60","x":18.6,"y":241},{"s":"50-60","x":18.75,"y":239},{"s":"50-60","x":18.9,"y":241},{"s":"50-60","x":19.05,"y":240},{"s":"50-60","x":19.2,"y":238},{"s":"50-60","x":19.35,"y":241},{"s":"50-60","x":19.5,"y":239},{"s":"50-60","x":19.65,"y":240},{"s":"50-60","x":19.8,"y":238},{"s":"50-60","x":19.95,"y":240},{"s":"50-60","x":20.1,"y":241},{"s":"50-60","x":20.25,"y":243},{"s":"50-60","x":20.37,"y":245},{"s":"50-60","x":20.48,"y":240},{"s":"50-60","x":20.6,"y":240},{"s":"50-60","x":20.72,"y":243},{"s":"50-60","x":20.82,"y":250},{"s":"50-60","x":20.92,"y":265},{"s":"50-60","x":20.98,"y":272},{"s":"50-60","x":21.05,"y":262},{"s":"50-60","x":21.13,"y":248},{"s":"50-60","x":21.25,"y":240},{"s":"50-60","x":21.4,"y":236},{"s":"50-60","x":21.55,"y":238},{"s":"50-60","x":21.7,"y":237},{"s":"50-60","x":21.85,"y":239},{"s":"50-60","x":22.0,"y":241},{"s":"50-60","x":22.1,"y":243},{"s":"50-60","x":22.16,"y":245},{"s":"50-60","x":22.25,"y":240},{"s":"50-60","x":22.4,"y":239},{"s":"50-60","x":22.55,"y":241},{"s":"50-60","x":22.7,"y":240},{"s":"50-60","x":22.85,"y":238},{"s":"50-60","x":23.0,"y":240},{"s":"50-60","x":23.2,"y":241},{"s":"50-60","x":23.35,"y":243},{"s":"50-60","x":23.5,"y":242},{"s":"50-60","x":23.62,"y":244},{"s":"50-60","x":23.72,"y":246},{"s":"50-60","x":23.82,"y":241},{"s":"50-60","x":23.95,"y":242},{"s":"50-60","x":24.1,"y":245},{"s":"50-60","x":24.22,"y":243},{"s":"50-60","x":24.37,"y":241},{"s":"50-60","x":24.5,"y":239},{"s":"50-60","x":24.62,"y":238},{"s":"50-60","x":24.75,"y":240},{"s":"50-60","x":24.88,"y":243},{"s":"50-60","x":25.0,"y":246},{"s":"50-60","x":25.12,"y":241},{"s":"50-60","x":25.3,"y":240},{"s":"50-60","x":25.45,"y":243},{"s":"50-60","x":25.6,"y":245},{"s":"50-60","x":25.76,"y":248},{"s":"50-60","x":25.86,"y":242},{"s":"50-60","x":25.98,"y":239},{"s":"50-60","x":26.15,"y":240},{"s":"50-60","x":26.3,"y":241},{"s":"50-60","x":26.42,"y":246},{"s":"50-60","x":26.52,"y":265},{"s":"50-60","x":26.6,"y":420},{"s":"50-60","x":26.8,"y":420},{"s":"50-60","x":26.9,"y":278},{"s":"50-60","x":27.0,"y":273},{"s":"50-60","x":27.15,"y":280},{"s":"50-60","x":27.28,"y":262},{"s":"50-60","x":27.42,"y":272},{"s":"50-60","x":27.55,"y":300},{"s":"50-60","x":27.63,"y":348},{"s":"50-60","x":27.72,"y":290},{"s":"50-60","x":27.82,"y":276},{"s":"50-60","x":27.92,"y":288},{"s":"50-60","x":28.02,"y":420},{"s":"50-60","x":28.22,"y":420},{"s":"50-60","x":28.3,"y":265},{"s":"50-60","x":28.4,"y":255},{"s":"50-60","x":28.5,"y":256},{"s":"50-60","x":28.65,"y":265},{"s":"50-60","x":28.8,"y":278},{"s":"50-60","x":28.92,"y":262},{"s":"50-60","x":29.05,"y":255},{"s":"50-60","x":29.26,"y":265},{"s":"50-60","x":29.4,"y":275},{"s":"50-60","x":29.51,"y":281},{"s":"50-60","x":29.62,"y":265},{"s":"50-60","x":29.77,"y":258},{"s":"50-60","x":29.86,"y":262},{"s":"50-60","x":29.94,"y":268},{"s":"50-60","x":30.05,"y":255},{"s":"50-60","x":30.2,"y":251},{"s":"50-60","x":30.37,"y":256},{"s":"50-60","x":30.5,"y":253},{"s":"50-60","x":30.63,"y":251},{"s":"50-60","x":30.75,"y":254},{"s":"50-60","x":30.88,"y":255},{"s":"50-60","x":31.0,"y":252},{"s":"50-60","x":31.14,"y":253},{"s":"50-60","x":31.28,"y":258},{"s":"50-60","x":31.4,"y":268},{"s":"50-60","x":31.5,"y":255},{"s":"50-60","x":31.57,"y":251},{"s":"50-60","x":31.75,"y":250},{"s":"50-60","x":31.9,"y":250},{"s":"50-60","x":32.05,"y":252},{"s":"50-60","x":32.2,"y":254},{"s":"50-60","x":32.33,"y":255},{"s":"50-60","x":32.5,"y":250},{"s":"50-60","x":32.65,"y":247},{"s":"50-60","x":32.8,"y":246},{"s":"50-60","x":32.95,"y":244},{"s":"50-60","x":33.1,"y":242},{"s":"50-60","x":33.27,"y":241},{"s":"50-60","x":33.45,"y":240},{"s":"50-60","x":33.6,"y":242},{"s":"50-60","x":33.72,"y":243},{"s":"50-60","x":33.85,"y":252},{"s":"50-60","x":33.96,"y":278},{"s":"50-60","x":34.06,"y":330},{"s":"50-60","x":34.14,"y":420},{"s":"50-60","x":34.3,"y":420},{"s":"50-60","x":34.38,"y":311},{"s":"50-60","x":34.46,"y":265},{"s":"50-60","x":34.56,"y":245},{"s":"50-60","x":34.75,"y":240},{"s":"50-60","x":34.98,"y":238},{"s":"50-60","x":35.15,"y":237},{"s":"50-60","x":35.3,"y":238},{"s":"50-60","x":35.5,"y":236},{"s":"50-60","x":35.7,"y":237},{"s":"50-60","x":35.9,"y":236},{"s":"50-60","x":36.1,"y":235},{"s":"50-60","x":36.3,"y":236},{"s":"50-60","x":36.5,"y":238},{"s":"50-60","x":36.6,"y":242},{"s":"50-60","x":36.66,"y":245},{"s":"50-60","x":36.74,"y":238},{"s":"50-60","x":36.86,"y":235},{"s":"50-60","x":37.0,"y":233},{"s":"50-60","x":37.2,"y":232},{"s":"50-60","x":37.38,"y":231},{"s":"50-60","x":37.6,"y":231},{"s":"50-60","x":37.8,"y":230},{"s":"50-60","x":38.06,"y":229},{"s":"50-60","x":38.25,"y":230},{"s":"50-60","x":38.45,"y":230},{"s":"50-60","x":38.6,"y":231},{"s":"50-60","x":38.74,"y":231},{"s":"50-60","x":38.95,"y":232},{"s":"50-60","x":39.1,"y":233},{"s":"50-60","x":39.26,"y":235},{"s":"50-60","x":39.4,"y":238},{"s":"50-60","x":39.5,"y":243},{"s":"50-60","x":39.56,"y":246},{"s":"50-60","x":39.64,"y":240},{"s":"50-60","x":39.77,"y":233},{"s":"50-60","x":39.9,"y":231},{"s":"50-60","x":40.1,"y":231},{"s":"50-60","x":40.25,"y":232},{"s":"50-60","x":40.4,"y":235},{"s":"50-60","x":40.5,"y":233},{"s":"50-60","x":40.6,"y":230},{"s":"50-60","x":40.77,"y":228},{"s":"50-60","x":40.95,"y":229},{"s":"50-60","x":41.15,"y":228},{"s":"50-60","x":41.3,"y":228},{"s":"50-60","x":41.48,"y":227},{"s":"50-60","x":41.65,"y":229},{"s":"50-60","x":41.75,"y":232},{"s":"50-60","x":41.85,"y":240},{"s":"50-60","x":41.95,"y":243},{"s":"50-60","x":42.0,"y":241}
],
"markers": [
{"m":"P","x":17.9},{"m":"V","x":21.0},{"m":"V","x":23.1},{"m":"V","x":25.0},{"m":"V","x":27.2},{"m":"P","x":28.6},{"m":"C","x":29.3},{"m":"L","x":32.3},{"m":"V","x":32.9},{"m":"P","x":34.2},{"m":"L","x":37.4},{"m":"C","x":39.5}
],
"labels": [
{"s":"50-60","x":20.78,"y":266},{"s":"40-50","x":20.62,"y":212},{"s":"30-40","x":20.52,"y":171},{"s":"20-30","x":20.52,"y":131},{"s":"10-20","x":20.37,"y":87},{"s":"0-10mm","x":20.62,"y":48}
],
"legend": [
{"t":"P：Portlandite","x":34.63,"y":348},{"t":"C：Calcite","x":34.63,"y":325},{"t":"V：Vaterite","x":34.63,"y":299},{"t":"L：Lime","x":34.63,"y":273}
]
},
"layer": [
{
"data": {"name": "xrd"},
"mark": {"type": "line", "strokeWidth": 2.2, "clip": true},
"encoding": {
"x": {"field": "x", "type": "quantitative",
"scale": {"domain": [17, 42], "nice": false, "zero": false},
"axis": {"values": [17,19,21,23,25,27,29,31,33,35,37,39,41], "grid": false,
"labelFont": "Noto Sans CJK JP", "labelFontSize": 17, "labelColor": "#000000",
"tickColor": "#000000", "tickSize": 5, "tickWidth": 1.5, "labelPadding": 5,
"domainColor": "#000000", "domainWidth": 2.5,
"title": "回折角（2θ,°）", "titleFont": "Noto Sans CJK JP", "titleFontSize": 18,
"titleFontWeight": "normal", "titleColor": "#000000", "titlePadding": 9}},
"y": {"field": "y", "type": "quantitative",
"scale": {"domain": [0, 370], "nice": false, "zero": false},
"axis": {"labels": false, "ticks": false, "grid": false,
"domainColor": "#000000", "domainWidth": 2.5,
"title": "X線強度", "titleFont": "Noto Sans CJK JP", "titleFontSize": 21,
"titleFontWeight": "normal", "titleColor": "#000000", "titlePadding": 26}},
"color": {"field": "s", "type": "nominal",
"scale": {"domain": ["0-10mm","10-20","20-30","30-40","40-50","50-60"],
"range": ["#FF0000","#F07C2E","#92D050","#00B050","#0070C0","#7030A0"]},
"legend": null},
"order": {"field": "x", "type": "quantitative"}
}
},
{
"data": {"name": "labels"},
"mark": {"type": "text", "align": "right", "baseline": "middle", "font": "Noto Sans CJK JP", "fontSize": 18},
"encoding": {
"x": {"field": "x", "type": "quantitative"},
"y": {"field": "y", "type": "quantitative"},
"text": {"field": "s"},
"color": {"field": "s", "type": "nominal", "legend": null}
}
},
{
"data": {"name": "legend"},
"mark": {"type": "text", "align": "left", "baseline": "middle", "font": "DejaVu Sans Mono", "fontSize": 16, "color": "#595959"},
"encoding": {
"x": {"field": "x", "type": "quantitative"},
"y": {"field": "y", "type": "quantitative"},
"text": {"field": "t"}
}
},
{
"data": {"name": "markers"},
"mark": {"type": "point", "shape": "circle", "filled": true, "size": 28, "color": "#666666", "opacity": 1},
"encoding": {
"x": {"field": "x", "type": "quantitative"},
"y": {"datum": 1.5, "type": "quantitative"}
}
},
{
"data": {"name": "markers"},
"transform": [{"filter": "datum.x < 28 || datum.x > 35"}],
"mark": {"type": "text", "align": "left", "baseline": "middle", "dx": 3, "font": "Noto Sans CJK JP", "fontSize": 16, "color": "#707070"},
"encoding": {
"x": {"field": "x", "type": "quantitative"},
"y": {"datum": 12, "type": "quantitative"},
"text": {"field": "m"}
}
},
{
"data": {"name": "markers"},
"transform": [{"filter": "datum.x > 28 && datum.x < 35"}],
"mark": {"type": "text", "align": "center", "baseline": "middle", "font": "Noto Sans CJK JP", "fontSize": 16, "color": "#707070"},
"encoding": {
"x": {"field": "x", "type": "quantitative"},
"y": {"datum": 17, "type": "quantitative"},
"text": {"field": "m"}
}
}
]
}
